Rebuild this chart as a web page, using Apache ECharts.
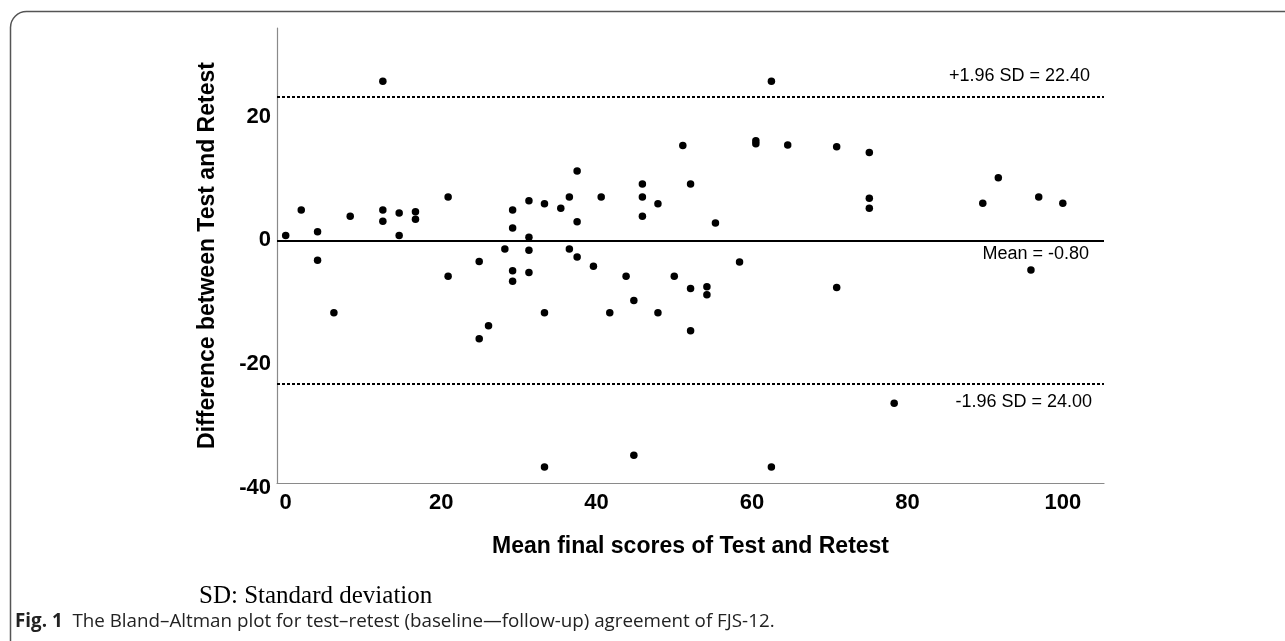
<!DOCTYPE html>
<html>
<head>
<meta charset="utf-8">
<script src="https://cdn.jsdelivr.net/npm/echarts@6/dist/echarts.min.js"></script>
<style>
  html, body { margin: 0; padding: 0; background: #fff; }
  #chart { width: 1285px; height: 641px; }
</style>
</head>
<body>
<div id="chart"></div>
<script>
// Mean of test and retest (x) and difference test - retest (y)
const meanScores = [
  0, 2.0, 4.1, 4.1, 6.2, 8.3, 12.5, 12.5, 12.5, 14.6, 14.6, 16.7, 16.7,
  20.9, 20.9, 24.9, 24.9, 26.1, 28.2, 29.2, 29.2, 29.2, 29.2,
  31.3, 31.3, 31.3, 31.3, 33.3, 33.3, 33.3, 35.4, 36.5, 36.5,
  37.5, 37.5, 37.5, 39.6, 40.6, 41.7, 43.8, 44.8, 44.8,
  45.9, 45.9, 45.9, 47.9, 47.9, 50.0, 51.1, 52.1, 52.1, 52.1,
  54.2, 54.2, 55.3, 58.4, 60.5, 60.5, 62.5, 62.5, 64.6,
  70.9, 70.9, 75.1, 75.1, 75.1, 78.3, 89.7, 91.7, 95.9, 96.9, 100.0
];
const differences = [
  0, 4.1, 0.6, -4.0, -12.5, 3.1, 24.9, 4.1, 2.3, 3.6, 0.0, 3.8, 2.6,
  6.2, -6.6, -4.2, -16.7, -14.6, -2.2, 4.1, 1.2, -5.7, -7.4,
  5.6, -0.3, -2.4, -6.0, 5.1, -12.5, -37.4, 4.4, 6.2, -2.2,
  10.4, 2.2, -3.5, -5.0, 6.2, -12.5, -6.6, -10.5, -35.5,
  8.3, 6.2, 3.1, 5.1, -12.5, -6.6, 14.5, 8.3, -8.6, -15.4,
  -8.3, -9.6, 2.0, -4.3, 15.3, 14.8, 24.9, -37.4, 14.6,
  14.3, -8.4, 13.4, 6.0, 4.4, -27.1, 5.2, 9.3, -5.6, 6.2, 5.2
];
const xTickValues = [0, 20, 40, 60, 80, 100];
const yTickValues = [-40, -20, 0, 20];
const meanDifference = -0.8;
const upperLimit = 22.4;
const lowerLimit = -24.0;
const upperLabel = '+1.96 SD = 22.40';
const meanLabel = 'Mean = -0.80';
const lowerLabel = '-1.96 SD = 24.00';
const xTitle = 'Mean final scores of Test and Retest';
const yTitle = 'Difference between Test and Retest';
const footnote = 'SD: Standard deviation';
const captionBold = 'Fig. 1';
const captionText = 'The Bland–Altman plot for test–retest (baseline—follow-up) agreement of FJS-12.';

const points = meanScores.map((x, i) => [x, differences[i]]);

const chart = echarts.init(document.getElementById('chart'), null, { renderer: 'canvas' });
const sans = '"Liberation Sans", Arial, sans-serif';
const lineLabel = (text, pos, dist) => ({
  show: true, position: pos, formatter: text, distance: dist,
  color: '#000', fontFamily: sans, fontSize: 18
});

chart.setOption({
  animation: false,
  backgroundColor: '#fff',
  grid: { left: 277, top: 28, right: 181, bottom: 158, containLabel: false },
  xAxis: {
    type: 'value', min: -1.12, max: 105.3,
    name: xTitle, nameLocation: 'middle', nameGap: 52,
    nameTextStyle: { fontFamily: sans, fontSize: 23, fontWeight: 'bold', color: '#000' },
    axisLine: { show: true, onZero: false, lineStyle: { color: '#8a8a8a', width: 1.2 } },
    axisTick: { show: false },
    splitLine: { show: false },
    axisLabel: { customValues: xTickValues, margin: 9, fontFamily: sans, fontSize: 22, fontWeight: 'bold', color: '#000' }
  },
  yAxis: {
    type: 'value', min: -40, max: 33.5,
    name: yTitle, nameLocation: 'middle', nameRotate: 90, nameGap: 58,
    nameTextStyle: { fontFamily: sans, fontSize: 23, fontWeight: 'bold', color: '#000' },
    axisLine: { show: true, onZero: false, lineStyle: { color: '#8a8a8a', width: 1.2 } },
    axisTick: { show: false },
    splitLine: { show: false },
    axisLabel: {
      customValues: yTickValues, margin: 6,
      formatter: '{v|{value}}',
      rich: { v: { padding: [10, 0, 0, 0], fontFamily: sans, fontSize: 22, fontWeight: 'bold', color: '#000' } },
      fontFamily: sans, fontSize: 22, fontWeight: 'bold', color: '#000'
    }
  },
  series: [{
    type: 'scatter',
    data: points,
    symbol: 'circle',
    symbolSize: 7.5,
    itemStyle: { color: '#000', opacity: 1 },
    markLine: {
      silent: true,
      symbol: ['none', 'none'],
      animation: false,
      data: [
        { yAxis: upperLimit, lineStyle: { type: [3, 2], color: '#000', width: 1.8 }, label: lineLabel(upperLabel, 'insideEndTop', [14, 12]) },
        { yAxis: meanDifference, lineStyle: { type: 'solid', color: '#000', width: 2.2 }, label: lineLabel(meanLabel, 'insideEndBottom', [15, 5]) },
        { yAxis: lowerLimit, lineStyle: { type: [3, 2], color: '#000', width: 1.8 }, label: lineLabel(lowerLabel, 'insideEndBottom', [12, 9]) }
      ]
    }
  }],
  graphic: [
    {
      type: 'rect', silent: true, z: -1,
      shape: { x: 10.5, y: 11.5, width: 1400, height: 900, r: 16 },
      style: { fill: 'none', stroke: '#555', lineWidth: 1.5 }
    },
    {
      type: 'text', left: 199, top: 584, silent: true,
      style: { text: footnote, font: '25px "Liberation Serif", "Times New Roman", serif', fill: '#000' }
    },
    {
      type: 'text', left: 15, top: 612, silent: true,
      style: {
        text: '{b|' + captionBold + '}  ' + captionText,
        fontFamily: '"Open Sans", sans-serif',
        fontSize: 18.8, fill: '#222',
        rich: { b: { fontWeight: 'bold', fontSize: 18.8, fontFamily: '"Open Sans", sans-serif', fill: '#222' } }
      }
    }
  ]
});
</script>
</body>
</html>
